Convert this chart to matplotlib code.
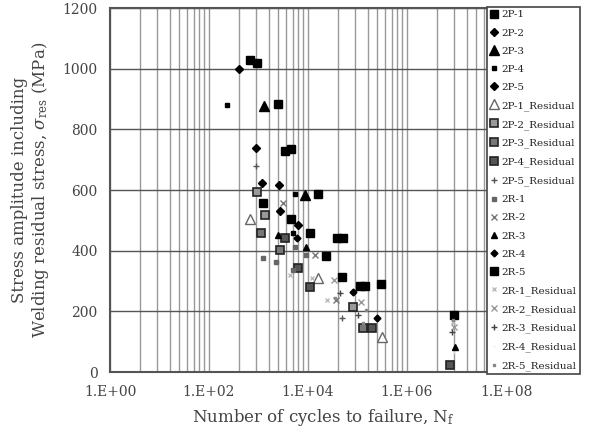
import numpy as np
import matplotlib.pyplot as plt
from matplotlib.ticker import FixedLocator, NullFormatter

plt.rcParams['font.family'] = 'DejaVu Serif'
plt.rcParams['mathtext.fontset'] = 'dejavuserif'

x_ticks = [1e0, 1e2, 1e4, 1e6, 1e8]
x_labels = ['1.E+00', '1.E+02', '1.E+04', '1.E+06', '1.E+08']
y_ticks = [0, 200, 400, 600, 800, 1000, 1200]

# cycles to failure / stress amplitude (MPa)
p1_n = [680, 930, 3450, 4550, 1230, 4550, 11000]
p1_s = [1030, 1020, 729, 735, 557, 505, 458]
p2_n = [405, 890, 1180]
p2_s = [1000, 738, 623]
p3_n = [1290, 8700]
p3_s = [877, 583]
p4_n = [235, 5450, 5000]
p4_s = [880, 587, 458]
p5_n = [2600, 2700, 6300]
p5_s = [617, 530, 485]
p1r_n = [670, 16000, 316000]
p1r_s = [505, 310, 115]
p2r_n = [930, 1350, 80000]
p2r_s = [593, 518, 214]
p3r_n = [1120, 2700, 130000]
p3r_s = [458, 402, 145]
p4r_n = [3450, 6300, 11000, 200000, 7.4e6]
p4r_s = [441, 343, 280, 145, 23]
p5r_n = [910, 48000]
p5r_s = [679, 178]
r1_n = [1250, 2300, 5400, 9000, 4900]
r1_s = [376, 363, 412, 386, 336]
r2_n = [3150, 14000, 36000]
r2_s = [557, 386, 237]
r3_n = [2470, 9000, 9.3e6]
r3_s = [451, 412, 82]
r4_n = [6000, 80000, 245000]
r4_s = [441, 264, 178]
r5_n = [2470, 15900, 23000, 39000, 50000, 48000, 113000, 140000, 296000, 8.9e6]
r5_s = [884, 587, 382, 441, 441, 313, 284, 284, 290, 188]
r1r_n = [4400, 12000, 24000, 8.5e6]
r1r_s = [320, 310, 237, 165]
r2r_n = [33000, 120000, 8.7e6]
r2r_s = [303, 231, 148]
r3r_n = [45000, 100000, 8.3e6]
r3r_s = [260, 188, 132]
r4r_n = [60000, 8.9e6]
r4r_s = [270, 66]
r5r_n = [35000, 150000, 130000, 8.6e6]
r5r_s = [244, 204, 162, 171]

series = [
    ('2P-1', p1_n, p1_s, dict(marker='s', ms=6, mfc='k', mec='k')),
    ('2P-2', p2_n, p2_s, dict(marker='D', ms=4.5, mfc='k', mec='k')),
    ('2P-3', p3_n, p3_s, dict(marker='^', ms=6.5, mfc='k', mec='k')),
    ('2P-4', p4_n, p4_s, dict(marker='s', ms=3.5, mfc='k', mec='k')),
    ('2P-5', p5_n, p5_s, dict(marker='D', ms=4.5, mfc='k', mec='k')),
    ('2P-1_Residual', p1r_n, p1r_s, dict(marker='^', ms=7, mfc='white', mec='#666')),
    ('2P-2_Residual', p2r_n, p2r_s, dict(marker='s', ms=6, mfc='#999', mec='#222', mew=1.2)),
    ('2P-3_Residual', p3r_n, p3r_s, dict(marker='s', ms=6, mfc='#777', mec='#222', mew=1.2)),
    ('2P-4_Residual', p4r_n, p4r_s, dict(marker='s', ms=6, mfc='#555', mec='#222', mew=1.2)),
    ('2P-5_Residual', p5r_n, p5r_s, dict(marker='+', ms=5, mfc='#555', mec='#555')),
    ('2R-1', r1_n, r1_s, dict(marker='s', ms=2.5, mfc='#666', mec='#666')),
    ('2R-2', r2_n, r2_s, dict(marker='x', ms=4.5, mfc='#777', mec='#777')),
    ('2R-3', r3_n, r3_s, dict(marker='^', ms=4.5, mfc='k', mec='k')),
    ('2R-4', r4_n, r4_s, dict(marker='D', ms=3.5, mfc='k', mec='k')),
    ('2R-5', r5_n, r5_s, dict(marker='s', ms=6, mfc='k', mec='k')),
    ('2R-1_Residual', r1r_n, r1r_s, dict(marker='x', ms=3.5, mfc='#bbb', mec='#bbb')),
    ('2R-2_Residual', r2r_n, r2r_s, dict(marker='x', ms=4, mfc='#999', mec='#999')),
    ('2R-3_Residual', r3r_n, r3r_s, dict(marker='+', ms=5, mfc='#444', mec='#444')),
    ('2R-4_Residual', r4r_n, r4r_s, dict(marker='.', ms=1, mfc='#eee', mec='#eee')),
    ('2R-5_Residual', r5r_n, r5r_s, dict(marker='s', ms=2, mfc='#888', mec='#888')),
]

fig = plt.figure(figsize=(5.93, 4.30), dpi=100)
ax = fig.add_axes([110/593, 58/430, 396/593, 364/430])

for name, n, s, st in series:
    ax.plot(n, s, ls='none', label=name, zorder=3, **st)

ax.set_xscale('log')
ax.set_xlim(1, 1e8)
ax.set_ylim(0, 1200)
ax.xaxis.set_major_locator(FixedLocator(x_ticks))
ax.set_xticklabels(x_labels)
minor = [100**k * m**2 for k in range(4) for m in range(2, 10)]
ax.xaxis.set_minor_locator(FixedLocator(minor))
ax.xaxis.set_minor_formatter(NullFormatter())
ax.set_yticks(y_ticks)

ax.grid(which='both', axis='x', color='#999', lw=1)
ax.grid(which='major', axis='y', color='#555', lw=1)
ax.set_axisbelow(True)
ax.tick_params(which='both', length=0, labelsize=10, labelcolor='#444')
ax.tick_params(axis='y', pad=9)
ax.tick_params(axis='x', pad=9)
for sp in ax.spines.values():
    sp.set_color('#555')
    sp.set_linewidth(1.5)

fig.text(31/593, 1 - 190/430,
         'Stress amplitude including\nWelding residual stress, $\\sigma_{\\mathrm{res}}$ (MPa)',
         rotation=90, ha='center', va='center', fontsize=12, color='#444', linespacing=1.15)
fig.text(323/593, 1 - 418/430, 'Number of cycles to failure, N$_{\\mathrm{f}}$',
         ha='center', va='center', fontsize=12, color='#444')

leg = fig.legend(loc='upper left', bbox_to_anchor=(487/593, 1 - 7/430),
                 fontsize=7.5, handlelength=0.8, handletextpad=0.3, borderpad=0.3,
                 labelspacing=0.85, fancybox=False, framealpha=1, borderaxespad=0,
                 edgecolor='#444', shadow=False)
leg.get_frame().set_linewidth(1.2)
for t in leg.get_texts():
    t.set_color('#222')

fig.savefig('out.png', dpi=100)
